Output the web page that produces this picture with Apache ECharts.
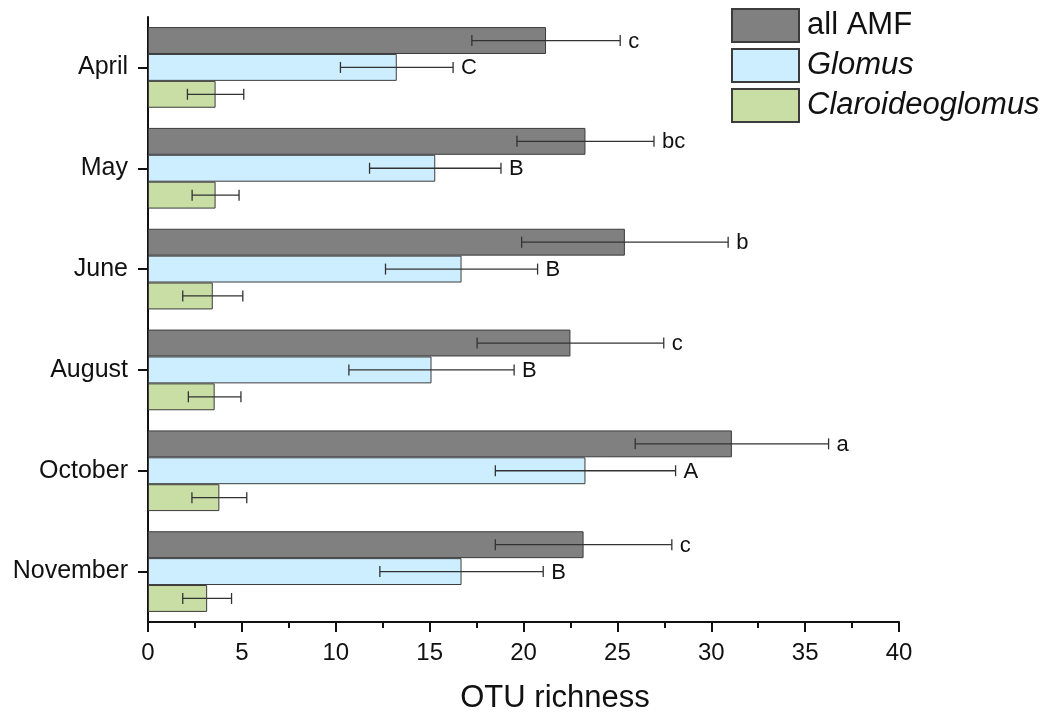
<!DOCTYPE html>
<html>
<head>
<meta charset="utf-8">
<script src="https://cdn.jsdelivr.net/npm/echarts@6/dist/echarts.min.js"></script>
<style>
  html, body { margin: 0; padding: 0; background: #fff; }
  #chart { width: 1048px; height: 715px; }
</style>
</head>
<body>
<div id="chart"></div>
<script>
// Sampling months (top to bottom)
const months = ['April', 'May', 'June', 'August', 'October', 'November'];

// Mean OTU richness per month
const allAMF = [21.2, 23.3, 25.4, 22.5, 31.1, 23.2];
const glomus = [13.25, 15.3, 16.7, 15.1, 23.3, 16.7];
const claroideoglomus = [3.6, 3.6, 3.45, 3.55, 3.8, 3.15];

// Error (± around the mean)
const allAMFErr = [3.95, 3.65, 5.5, 4.97, 5.15, 4.7];
const glomusErr = [3.0, 3.5, 4.05, 4.4, 4.8, 4.35];
const claroideoglomusErr = [1.5, 1.25, 1.6, 1.4, 1.46, 1.3];

// Significance letters
const allAMFLetters = ['c', 'bc', 'b', 'c', 'a', 'c'];
const glomusLetters = ['C', 'B', 'B', 'B', 'A', 'B'];
const claroideoglomusLetters = ['', '', '', '', '', ''];

const xTicks = [0, 5, 10, 15, 20, 25, 30, 35, 40];

const FONT = 'Arial, "Liberation Sans", sans-serif';
const GAP = 0.2; // fraction of band left empty

function errorSeries(name, means, errs, letters, slot) {
  return {
    name: name + ' err',
    type: 'custom',
    z: 5,
    data: means.map((m, i) => [i, m, errs[i], letters[i]]),
    renderItem: function (params, api) {
      const cat = api.value(0);
      const mean = api.value(1);
      const err = api.value(2);
      const letter = letters[params.dataIndex];
      const band = api.size([0, 1])[1];
      const bw = band * (1 - GAP) / 3;
      const y = api.coord([0, cat])[1] + slot * bw;
      const lo = api.coord([mean - err, cat])[0];
      const hi = api.coord([mean + err, cat])[0];
      const cap = 5.5;
      const st = { stroke: '#333333', lineWidth: 1.3 };
      const children = [
        { type: 'line', shape: { x1: lo, y1: y, x2: hi, y2: y }, style: st },
        { type: 'line', shape: { x1: lo, y1: y - cap, x2: lo, y2: y + cap }, style: st },
        { type: 'line', shape: { x1: hi, y1: y - cap, x2: hi, y2: y + cap }, style: st }
      ];
      if (letter) {
        children.push({
          type: 'text',
          style: {
            x: hi + 8, y: y + 1, text: letter,
            fill: '#111', font: '22px ' + FONT,
            textAlign: 'left', textVerticalAlign: 'middle'
          }
        });
      }
      return { type: 'group', children: children };
    }
  };
}

function barSeries(name, data, color) {
  return {
    name: name,
    type: 'bar',
    data: data,
    barGap: '0%',
    barCategoryGap: (GAP * 100) + '%',
    itemStyle: { color: color, borderColor: '#3c3c3c', borderWidth: 1 }
  };
}

const chart = echarts.init(document.getElementById('chart'), null, { renderer: 'canvas' });

chart.setOption({
  animation: false,
  backgroundColor: '#ffffff',
  textStyle: { fontFamily: FONT },
  grid: { left: 148, right: 149, top: 17, bottom: 93, containLabel: false, outerBoundsMode: 'none' },
  legend: {
    data: ['all AMF', 'Glomus', 'Claroideoglomus'],
    orient: 'vertical',
    left: 731, top: 8,
    padding: 0,
    itemWidth: 67, itemHeight: 33, itemGap: 5,
    icon: 'rect',
    formatter: function (n) { return n === 'all AMF' ? n : '{i|' + n + '}'; },
    textStyle: {
      fontSize: 31, color: '#111', fontFamily: FONT, padding: [0, 0, 0, 3],
      rich: { i: { fontStyle: 'italic', fontSize: 31, color: '#111', fontFamily: FONT } }
    }
  },
  xAxis: {
    type: 'value',
    min: xTicks[0], max: xTicks[xTicks.length - 1], interval: 5,
    name: 'OTU richness',
    nameLocation: 'middle',
    nameGap: 61,
    nameTextStyle: { fontSize: 31, color: '#111', fontFamily: FONT, padding: [0, 0, 0, 63] },
    axisLine: { show: true, lineStyle: { color: '#111', width: 2 } },
    axisTick: { show: true, inside: false, length: 10, lineStyle: { color: '#111', width: 2 } },
    minorTick: { show: true, splitNumber: 2, length: 6, lineStyle: { color: '#111', width: 2 } },
    axisLabel: { fontSize: 24, color: '#111', margin: 19, fontFamily: FONT },
    splitLine: { show: false }
  },
  yAxis: {
    type: 'category',
    data: months,
    inverse: true,
    axisLine: { show: true, lineStyle: { color: '#111', width: 2 } },
    axisTick: { show: true, alignWithLabel: true, length: 10, lineStyle: { color: '#111', width: 2 } },
    axisLabel: { fontSize: 25, color: '#111', margin: 20, fontFamily: FONT },
    splitLine: { show: false }
  },
  series: [
    barSeries('all AMF', allAMF, '#808080'),
    barSeries('Glomus', glomus, '#cdeeff'),
    barSeries('Claroideoglomus', claroideoglomus, '#c8dea4'),
    errorSeries('all AMF', allAMF, allAMFErr, allAMFLetters, -1),
    errorSeries('Glomus', glomus, glomusErr, glomusLetters, 0),
    errorSeries('Claroideoglomus', claroideoglomus, claroideoglomusErr, claroideoglomusLetters, 1)
  ]
});
</script>
</body>
</html>
